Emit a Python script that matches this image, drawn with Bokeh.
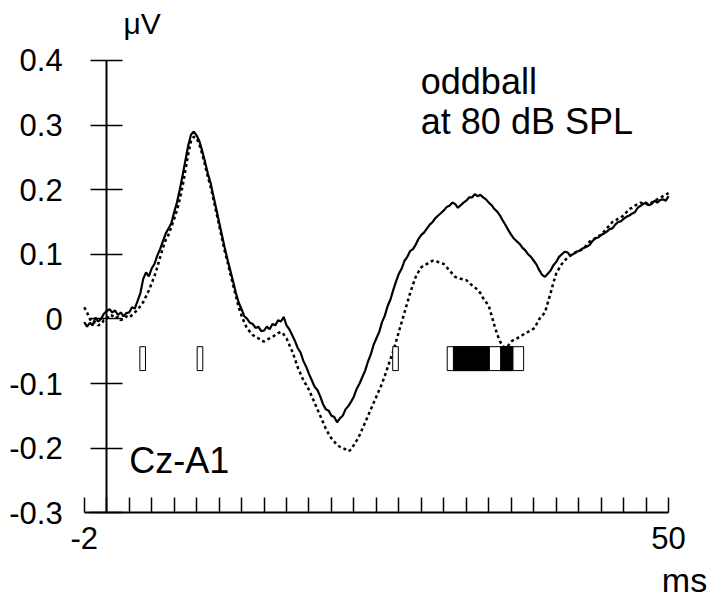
from bokeh.plotting import figure
from bokeh.models import LinearAxis, FixedTicker, Range1d, Label, ColumnDataSource
from bokeh.embed import file_html
from bokeh.resources import INLINE

# ---------------- data ----------------
# time axis in ms, 0.25 ms steps from -2 to 50
t_ms = [i * 0.25 for i in range(-8, 201)]

# solid trace (standard), one row per ms: x.00, x.25, x.50, x.75
standard = [
    -0.005, -0.012, -0.006, -0.010,   # -2
    0.002, -0.004, 0.000, 0.008,      # -1
    0.012, 0.015, 0.010, 0.013,       # 0
    0.006, 0.010, 0.004, 0.009,       # 1
    0.010, 0.018, 0.016, 0.028,       # 2
    0.040, 0.062, 0.072, 0.066,       # 3
    0.078, 0.085, 0.098, 0.108,       # 4
    0.120, 0.132, 0.140, 0.148,       # 5
    0.165, 0.180, 0.200, 0.222,       # 6
    0.245, 0.268, 0.285, 0.290,       # 7
    0.284, 0.275, 0.260, 0.243,       # 8
    0.225, 0.210, 0.190, 0.170,       # 9
    0.150, 0.130, 0.110, 0.092,       # 10
    0.075, 0.058, 0.040, 0.025,       # 11
    0.015, 0.004, 0.000, -0.006,      # 12
    -0.008, -0.014, -0.012, -0.019,   # 13
    -0.018, -0.012, -0.016, -0.008,   # 14
    -0.010, -0.002, -0.004, 0.003,    # 15
    -0.010, -0.016, -0.025, -0.034,   # 16
    -0.045, -0.052, -0.065, -0.074,   # 17
    -0.085, -0.095, -0.105, -0.110,   # 18
    -0.120, -0.132, -0.140, -0.142,   # 19
    -0.150, -0.152, -0.160, -0.154,   # 20
    -0.150, -0.140, -0.135, -0.128,   # 21
    -0.120, -0.108, -0.100, -0.090,   # 22
    -0.080, -0.066, -0.055, -0.040,   # 23
    -0.030, -0.020, -0.005, 0.005,    # 24
    0.020, 0.030, 0.045, 0.058,       # 25
    0.070, 0.078, 0.090, 0.096,       # 26
    0.105, 0.108, 0.115, 0.124,       # 27
    0.130, 0.134, 0.140, 0.146,       # 28
    0.150, 0.156, 0.160, 0.164,       # 29
    0.168, 0.173, 0.175, 0.180,       # 30
    0.178, 0.172, 0.176, 0.180,       # 31
    0.183, 0.188, 0.188, 0.193,       # 32
    0.190, 0.192, 0.188, 0.185,       # 33
    0.180, 0.176, 0.170, 0.166,       # 34
    0.160, 0.152, 0.145, 0.137,       # 35
    0.130, 0.124, 0.120, 0.116,       # 36
    0.110, 0.106, 0.100, 0.096,       # 37
    0.090, 0.084, 0.075, 0.068,       # 38
    0.065, 0.070, 0.075, 0.083,       # 39
    0.088, 0.096, 0.100, 0.104,       # 40
    0.103, 0.098, 0.100, 0.104,       # 41
    0.105, 0.108, 0.110, 0.112,       # 42
    0.115, 0.121, 0.125, 0.126,       # 43
    0.130, 0.132, 0.135, 0.139,       # 44
    0.140, 0.146, 0.150, 0.151,       # 45
    0.155, 0.158, 0.160, 0.163,       # 46
    0.165, 0.172, 0.175, 0.178,       # 47
    0.180, 0.176, 0.178, 0.183,       # 48
    0.180, 0.184, 0.185, 0.183,       # 49
    0.190,                            # 50
]

# dotted trace (oddball)
oddball = [
    0.018, 0.010, 0.000, -0.006,      # -2
    -0.005, -0.010, -0.008, -0.002,   # -1
    0.000, 0.006, 0.005, 0.001,       # 0
    0.003, -0.002, 0.000, 0.004,      # 1
    0.002, 0.006, 0.010, 0.014,       # 2
    0.020, 0.026, 0.035, 0.044,       # 3
    0.055, 0.066, 0.080, 0.095,       # 4
    0.110, 0.122, 0.130, 0.142,       # 5
    0.155, 0.168, 0.185, 0.205,       # 6
    0.230, 0.255, 0.275, 0.282,       # 7
    0.280, 0.270, 0.255, 0.238,       # 8
    0.220, 0.204, 0.185, 0.165,       # 9
    0.145, 0.125, 0.105, 0.088,       # 10
    0.070, 0.052, 0.035, 0.018,       # 11
    0.005, -0.006, -0.015, -0.020,    # 12
    -0.025, -0.028, -0.030, -0.034,   # 13
    -0.035, -0.032, -0.030, -0.028,   # 14
    -0.025, -0.022, -0.020, -0.024,   # 15
    -0.030, -0.040, -0.050, -0.062,   # 16
    -0.075, -0.085, -0.095, -0.102,   # 17
    -0.110, -0.120, -0.130, -0.140,   # 18
    -0.150, -0.160, -0.170, -0.178,   # 19
    -0.185, -0.190, -0.195, -0.198,   # 20
    -0.200, -0.202, -0.205, -0.202,   # 21
    -0.195, -0.188, -0.180, -0.170,   # 22
    -0.160, -0.150, -0.140, -0.130,   # 23
    -0.120, -0.110, -0.100, -0.088,   # 24
    -0.075, -0.062, -0.050, -0.035,   # 25
    -0.020, -0.005, 0.010, 0.025,     # 26
    0.040, 0.053, 0.065, 0.073,       # 27
    0.080, 0.083, 0.085, 0.088,       # 28
    0.090, 0.090, 0.088, 0.086,       # 29
    0.085, 0.080, 0.075, 0.070,       # 30
    0.065, 0.063, 0.062, 0.061,       # 31
    0.060, 0.056, 0.052, 0.049,       # 32
    0.045, 0.040, 0.032, 0.026,       # 33
    0.020, 0.005, -0.010, -0.024,     # 34
    -0.035, -0.042, -0.045, -0.041,   # 35
    -0.035, -0.032, -0.030, -0.028,   # 36
    -0.025, -0.022, -0.020, -0.018,   # 37
    -0.015, -0.008, 0.000, 0.005,     # 38
    0.010, 0.025, 0.040, 0.056,       # 39
    0.070, 0.078, 0.085, 0.090,       # 40
    0.095, 0.098, 0.100, 0.103,       # 41
    0.105, 0.107, 0.110, 0.115,       # 42
    0.120, 0.122, 0.125, 0.128,       # 43
    0.130, 0.135, 0.140, 0.145,       # 44
    0.150, 0.152, 0.155, 0.157,       # 45
    0.160, 0.165, 0.170, 0.172,       # 46
    0.175, 0.178, 0.180, 0.179,       # 47
    0.178, 0.176, 0.180, 0.183,       # 48
    0.185, 0.187, 0.190, 0.192,       # 49
    0.195,                            # 50
]

# significance markers (ms intervals)
open_start = [2.95, 8.05, 25.45, 30.3]
open_end = [3.45, 8.55, 25.95, 37.1]
filled_start = [30.85, 35.05]
filled_end = [34.05, 36.15]
marker_top = -0.043
marker_bottom = -0.080

y_ticks = [-0.3, -0.2, -0.1, 0.0, 0.1, 0.2, 0.3, 0.4]
y_tick_labels = ["-0.3", "-0.2", "-0.1", "0", "0.1", "0.2", "0.3", "0.4"]
x_ticks = list(range(-2, 51, 2))
x_labeled = [-2, 50]
x_labels = ["-2", "50"]

FONT = "Liberation Sans"

# ---------------- figure ----------------
p = figure(width=707, height=598,
           x_range=Range1d(-9.450, 53.461), y_range=Range1d(-0.43275, 0.49280),
           x_axis_type=None, y_axis_type=None, title=None,
           output_backend="svg", toolbar_location=None,
           min_border=0, outline_line_color=None)
p.grid.visible = False
p.background_fill_color = "white"

# y axis through x = 0
yaxis = LinearAxis(fixed_location=0, bounds=(-0.3, 0.4),
                   ticker=FixedTicker(ticks=y_ticks),
                   major_label_overrides={float(v): s for v, s in zip(y_ticks, y_tick_labels)},
                   major_tick_in=16, major_tick_out=16,
                   minor_tick_line_color=None,
                   axis_line_width=2, major_tick_line_width=1.5,
                   axis_line_color="black", major_tick_line_color="black",
                   major_label_standoff=28,
                   major_label_text_font=FONT, major_label_text_font_size="31px",
                   major_label_text_color="black")
p.add_layout(yaxis, "left")

# x axis along y = -0.3 (ticks only)
xaxis = LinearAxis(fixed_location=-0.3, bounds=(-2, 50),
                   ticker=FixedTicker(ticks=x_ticks),
                   major_tick_in=15, major_tick_out=0,
                   minor_tick_line_color=None,
                   axis_line_width=2, major_tick_line_width=1.5,
                   axis_line_color="black", major_tick_line_color="black",
                   major_label_text_color=None)
p.add_layout(xaxis, "below")

# x labels only at the ends
xlab = LinearAxis(fixed_location=-0.3,
                  ticker=FixedTicker(ticks=x_labeled),
                  major_label_overrides={float(v): s for v, s in zip(x_labeled, x_labels)},
                  axis_line_color=None, major_tick_line_color=None,
                  minor_tick_line_color=None,
                  major_tick_in=0, major_tick_out=0,
                  major_label_standoff=14,
                  major_label_text_font=FONT, major_label_text_font_size="31px",
                  major_label_text_color="black")
p.add_layout(xlab, "below")

# traces
n = min(len(t_ms), len(standard), len(oddball))
p.line(t_ms[:n], standard[:n], line_color="black", line_width=2.2)
p.line(t_ms[:n], oddball[:n], line_color="black", line_width=2.5, line_dash="3 3")

# markers
mk_open = ColumnDataSource(dict(left=open_start, right=open_end,
                                top=[marker_top] * len(open_start),
                                bottom=[marker_bottom] * len(open_start)))
p.quad(left="left", right="right", top="top", bottom="bottom", source=mk_open,
       fill_color="white", line_color="black", line_width=1)
mk_fill = ColumnDataSource(dict(left=filled_start, right=filled_end,
                                top=[marker_top] * len(filled_start),
                                bottom=[marker_bottom] * len(filled_start)))
p.quad(left="left", right="right", top="top", bottom="bottom", source=mk_fill,
       fill_color="black", line_color="black", line_width=1)

# texts
def lab(txt, x, y, size, align="left"):
    p.add_layout(Label(x=x, y=y, text=txt, text_font=FONT, text_font_size=size,
                       text_color="black", text_align=align,
                       text_baseline="alphabetic"))

lab("oddball", 27.95, 0.3676, "36px")
lab("at 80 dB SPL", 27.95, 0.3056, "36px")
lab("Cz-A1", 2.0, -0.2184, "36px")
lab("\u03bcV", 1.5, 0.4572, "30px")
lab("ms", 49.4, -0.4039, "34px")

open("out.html", "w").write(file_html(p, INLINE))
